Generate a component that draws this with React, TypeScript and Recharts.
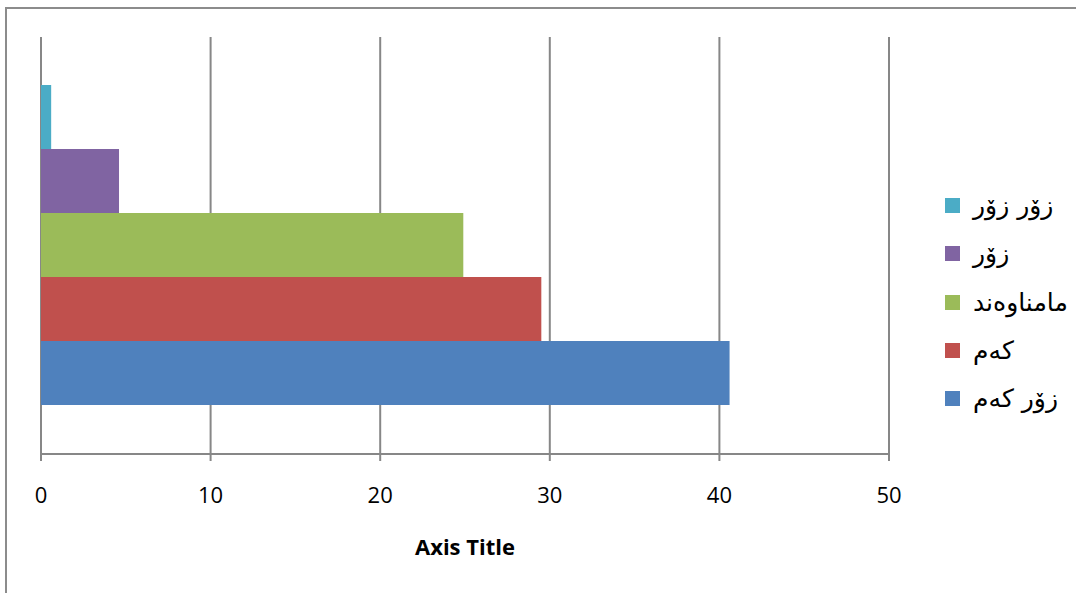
import React from 'react';
import { BarChart, Bar, XAxis, YAxis, CartesianGrid, Legend } from 'recharts';

const seriesNames = ['زۆر زۆر', 'زۆر', 'مامناوەند', 'کەم', 'زۆر کەم'];
const seriesValues = [0.6, 4.6, 24.9, 29.5, 40.6];
const seriesColors = ['#4bacc6', '#8064a2', '#9bbb59', '#c0504d', '#4f81bd'];
const xTicks = [0, 10, 20, 30, 40, 50];

const row: Record<string, number | string> = { name: '' };
seriesNames.forEach((n, i) => {
    row[`s${i}`] = seriesValues[i];
});
const data = [row];

const LegendBox = (props: any) => {
    const items = [...(props.payload || [])].sort(
        (a: any, b: any) => seriesNames.indexOf(a.value) - seriesNames.indexOf(b.value)
    );
    return (
        <div>
            {items.map((it: any) => (
                <div
                    key={it.value}
                    style={{ display: 'flex', alignItems: 'center', height: 48.3 }}
                >
                    <span
                        style={{
                            width: 15,
                            height: 15,
                            background: it.color,
                            display: 'inline-block',
                            marginRight: 13,
                            flexShrink: 0,
                        }}
                    />
                    <span
                        style={{
                            fontSize: 25,
                            color: '#000',
                            whiteSpace: 'nowrap',
                            fontFamily: "'DejaVu Sans', sans-serif",
                        }}
                    >
                        {it.value}
                    </span>
                </div>
            ))}
        </div>
    );
};

export default function App() {
    return (
        <div
            style={{
                position: 'absolute',
                left: 0,
                top: 0,
                width: 1076,
                height: 593,
                overflow: 'hidden',
                background: '#fff',
            }}
        >
            <div
                style={{
                    position: 'absolute',
                    left: 5,
                    top: 7,
                    width: 1100,
                    height: 700,
                    border: '2px solid #8c8c8c',
                }}
            />
            <div style={{ position: 'absolute', left: 0, top: 0 }}>
                <BarChart
                    width={1076}
                    height={593}
                    data={data}
                    layout="vertical"
                    margin={{ top: 37, right: 187, left: 41, bottom: 0 }}
                    barCategoryGap={48}
                    barGap={0}
                >
                    <CartesianGrid horizontal={false} stroke="#878787" strokeWidth={2} />
                    <XAxis
                        type="number"
                        domain={[0, 50]}
                        ticks={xTicks}
                        height={139}
                        interval={0}
                        tickSize={7}
                        tickMargin={26}
                        axisLine={{ stroke: '#878787', strokeWidth: 2 }}
                        tickLine={{ stroke: '#878787', strokeWidth: 2 }}
                        tick={{ fill: '#000', fontSize: 22, fontFamily: "'Open Sans', sans-serif" }}
                        label={{
                            value: 'Axis Title',
                            position: 'insideBottom',
                            offset: 38,
                            fill: '#000',
                            fontSize: 22,
                            fontWeight: 'bold',
                            fontFamily: "'Open Sans', sans-serif",
                        }}
                    />
                    <YAxis type="category" dataKey="name" hide width={0} />
                    <Legend
                        layout="horizontal"
                        align="center"
                        verticalAlign="middle"
                        itemSorter={null as any}
                        content={<LegendBox />}
                        wrapperStyle={{ left: 945, top: 181.5, width: 130 }}
                    />
                    {seriesNames.map((n, i) => (
                        <Bar
                            key={n}
                            dataKey={`s${i}`}
                            name={n}
                            fill={seriesColors[i]}
                            isAnimationActive={false}
                        />
                    ))}
                </BarChart>
            </div>
        </div>
    );
}
